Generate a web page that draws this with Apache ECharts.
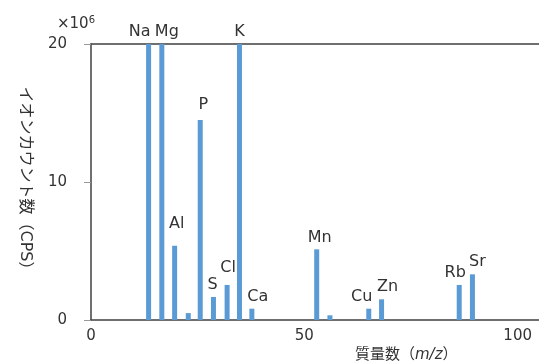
<!DOCTYPE html>
<html><head><meta charset="utf-8">
<script src="https://cdn.jsdelivr.net/npm/echarts@6/dist/echarts.min.js"></script>
<style>html,body{margin:0;padding:0;background:#fff}#c{width:539px;height:364px}</style>
</head><body><div id="c"></div>
<script>
// data
const elements = ['Na','Mg','Al','','P','S','Cl','K','Ca','Mn','','Cu','Zn','Rb','Sr'];
const massNumber = [13.5,16.6,19.6,22.8,25.6,28.7,31.9,34.8,37.7,52.9,56.0,65.1,68.1,86.3,89.4];
const ionCounts = [20,20,5.38,0.5,14.5,1.67,2.54,20,0.82,5.12,0.34,0.82,1.5,2.54,3.31]; // ×10^6 CPS
const xTickLabels = [0,50,100];
const yTickStep = 10;

// label nudges (style, not data)
const labelNudge = {Na:[-9,0],Mg:[5,0],Al:[2,-10],P:[3,-3],S:[-1,0],Cl:[1,-5],Ca:[6,0],Mn:[3,0],Cu:[-7,0],Zn:[6,0],Rb:[-4,0],Sr:[5,0],K:[0,0]};

const FONT = "'DejaVu Sans','Noto Sans CJK JP',sans-serif";
const TXT = '#333';
const AXIS = '#404040';

const chart = echarts.init(document.getElementById('c'), null, {renderer:'canvas'});
const seriesData = massNumber.map((x,i)=>{
  const name = elements[i];
  const n = labelNudge[name] || [0,0];
  return {
    value:[x, ionCounts[i]],
    name:name,
    label:{show: name!=='', formatter: name, offset:n}
  };
});
chart.setOption({
  animation:false,
  backgroundColor:'#fff',
  title:[
    {text:'{a|×10}{b|6}', left:52, top:10,
     textStyle:{rich:{a:{fontFamily:FONT,fontSize:15,fontWeight:'normal',color:TXT},b:{fontFamily:FONT,fontSize:10,fontWeight:'normal',color:TXT,verticalAlign:'top',padding:[0,0,8,0]}}}},
    {text:'{a|質量数（}{i|m/z}{a|）}', left:350, top:343,
     textStyle:{rich:{a:{fontFamily:FONT,fontSize:15,fontWeight:'normal',color:TXT},i:{fontFamily:FONT,fontSize:15,fontWeight:'normal',color:TXT,fontStyle:'italic'}}}}
  ],
  grid:{left:91, right:0, top:44, bottom:44},
  xAxis:[
    {type:'value', min:0, max:105, position:'bottom',
     axisLine:{show:true, lineStyle:{color:AXIS, width:1.5}},
     axisTick:{show:false},
     splitLine:{show:false},
     axisLabel:{customValues:xTickLabels, margin:9, fontFamily:FONT, fontSize:15, color:TXT}},
    {type:'value', min:0, max:105, position:'top',
     axisLine:{show:true, lineStyle:{color:AXIS, width:1.5}},
     axisTick:{show:false}, axisLabel:{show:false}, splitLine:{show:false}}
  ],
  yAxis:{type:'value', min:0, max:20, interval:yTickStep,
    name:'イオンカウント数（CPS）', nameLocation:'middle', nameRotate:-90, nameGap:58,
    nameTextStyle:{fontFamily:FONT, fontSize:16, color:TXT},
    axisLine:{show:true, onZero:false, lineStyle:{color:AXIS, width:1.5}},
    axisTick:{show:true, length:7, lineStyle:{color:'#999'}},
    splitLine:{show:false},
    axisLabel:{margin:24, fontFamily:FONT, fontSize:15, color:TXT}},
  series:[{
    type:'bar', xAxisIndex:0, barWidth:5,
    itemStyle:{color:'#5B9BD5'},
    label:{show:true, position:'top', distance:4, fontFamily:FONT, fontSize:16, color:TXT},
    data:seriesData
  }]
});
</script></body></html>
